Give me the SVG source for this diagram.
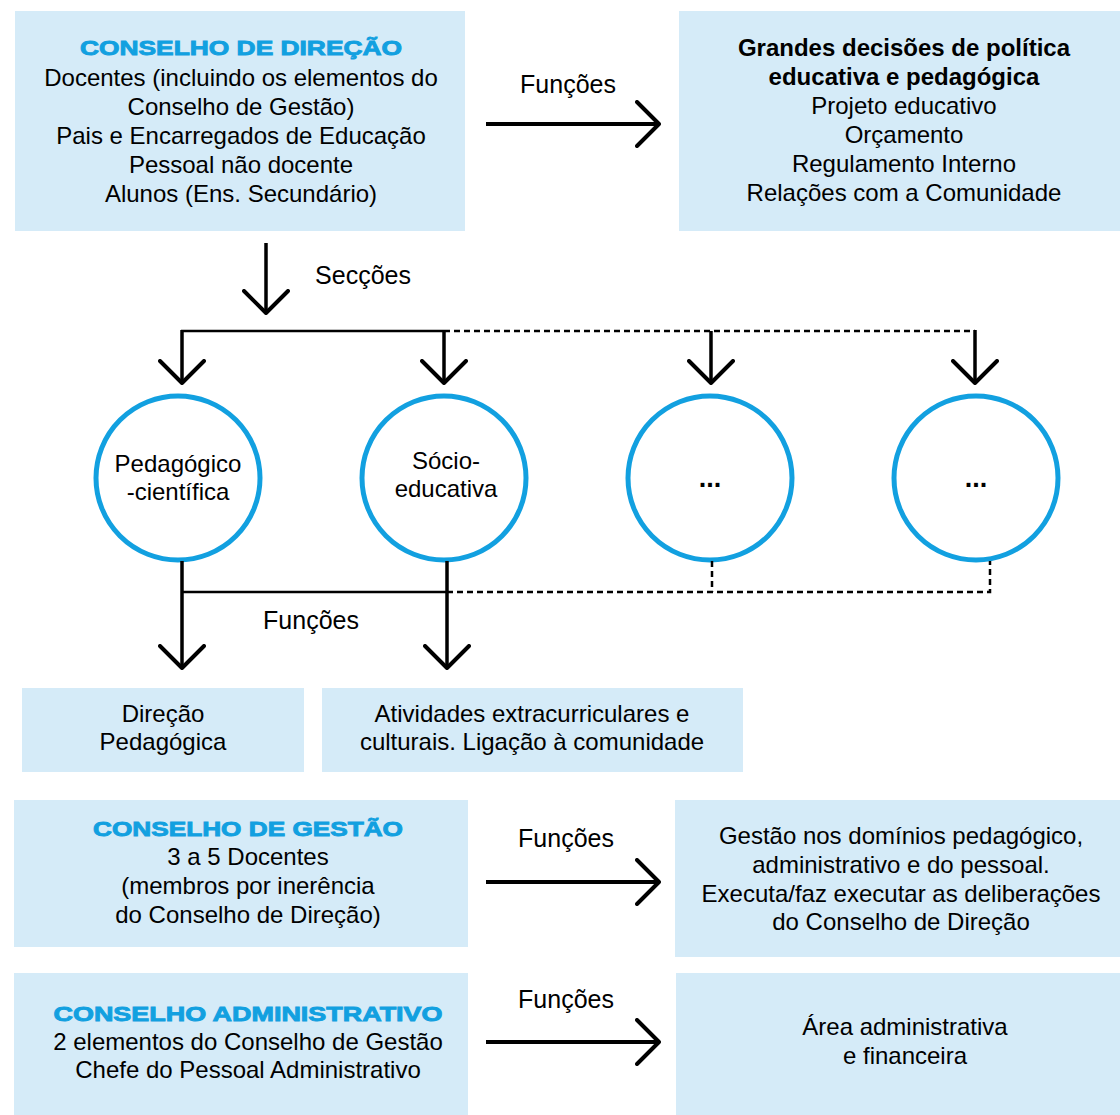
<svg xmlns="http://www.w3.org/2000/svg" width="1120" height="1115" viewBox="0 0 1120 1115">
<defs>
<style>
.box{fill:#D5EBF8;}
.t{font-family:"Liberation Sans",Arial,sans-serif;font-size:24px;fill:#000;text-anchor:middle;}
.b{font-weight:bold;}
.dots{font-family:"Liberation Sans",Arial,sans-serif;font-size:27px;font-weight:bold;fill:#000;text-anchor:middle;}
.title{font-family:"Liberation Sans",Arial,sans-serif;font-size:21px;font-weight:bold;fill:#12A0E0;stroke:#12A0E0;stroke-width:0.9;text-anchor:middle;}
.lbl{font-family:"Liberation Sans",Arial,sans-serif;font-size:25px;fill:#000;text-anchor:middle;}
.circ{fill:#fff;stroke:#12A0E0;stroke-width:5;}
.arr{stroke:#000;stroke-width:3.5;fill:none;marker-end:url(#chev);}
.arrh{stroke:#000;stroke-width:4;fill:none;marker-end:url(#chev);}
.ln{stroke:#000;stroke-width:2.5;fill:none;}
.dash{stroke:#000;stroke-width:2.5;fill:none;stroke-dasharray:6 4;}
</style>
<marker id="chev" viewBox="0 0 26 48" refX="24" refY="24" markerWidth="26" markerHeight="48" markerUnits="userSpaceOnUse" orient="auto">
<path d="M2,2 L24,24 L2,46" fill="none" stroke="#000" stroke-width="4" stroke-linecap="round" stroke-linejoin="round"/>
</marker>
</defs>
<rect width="1120" height="1115" fill="#fff"/>

<g id="conselho-direcao">
<rect class="box" x="15" y="11" width="450" height="220"/>
<text class="title" x="241" y="55" textLength="322" lengthAdjust="spacingAndGlyphs">CONSELHO DE DIREÇÃO</text>
<text class="t" x="241" y="86">Docentes (incluindo os elementos do</text>
<text class="t" x="241" y="115">Conselho de Gestão)</text>
<text class="t" x="241" y="144">Pais e Encarregados de Educação</text>
<text class="t" x="241" y="173">Pessoal não docente</text>
<text class="t" x="241" y="202">Alunos (Ens. Secundário)</text>
</g>

<g id="decisoes">
<rect class="box" x="679" y="11" width="441" height="220"/>
<text class="t b" x="904" y="56">Grandes decisões de política</text>
<text class="t b" x="904" y="85">educativa e pedagógica</text>
<text class="t" x="904" y="114">Projeto educativo</text>
<text class="t" x="904" y="143">Orçamento</text>
<text class="t" x="904" y="172">Regulamento Interno</text>
<text class="t" x="904" y="201">Relações com a Comunidade</text>
</g>

<g id="sec-pedagogico">
<circle class="circ" cx="178" cy="478" r="82"/>
<text class="t" x="178" y="472">Pedagógico</text>
<text class="t" x="178" y="500">-científica</text>
</g>
<g id="sec-socio">
<circle class="circ" cx="444" cy="478" r="82"/>
<text class="t" x="446" y="469">Sócio-</text>
<text class="t" x="446" y="497">educativa</text>
</g>
<g id="sec-3">
<circle class="circ" cx="710" cy="478" r="82"/>
<text class="dots" x="710" y="487">...</text>
</g>
<g id="sec-4">
<circle class="circ" cx="976" cy="478" r="82"/>
<text class="dots" x="976" y="487">...</text>
</g>

<g id="direcao-pedagogica">
<rect class="box" x="22" y="688" width="282" height="84"/>
<text class="t" x="163" y="722">Direção</text>
<text class="t" x="163" y="750">Pedagógica</text>
</g>
<g id="atividades">
<rect class="box" x="322" y="688" width="421" height="84"/>
<text class="t" x="532" y="722">Atividades extracurriculares e</text>
<text class="t" x="532" y="750">culturais. Ligação à comunidade</text>
</g>

<g id="conselho-gestao">
<rect class="box" x="14" y="800" width="454" height="147"/>
<text class="title" x="248" y="836" textLength="310" lengthAdjust="spacingAndGlyphs">CONSELHO DE GESTÃO</text>
<text class="t" x="248" y="865">3 a 5 Docentes</text>
<text class="t" x="248" y="894">(membros por inerência</text>
<text class="t" x="248" y="923">do Conselho de Direção)</text>
</g>
<g id="gestao-funcoes">
<rect class="box" x="675" y="800" width="445" height="157"/>
<text class="t" x="901" y="844">Gestão nos domínios pedagógico,</text>
<text class="t" x="901" y="873">administrativo e do pessoal.</text>
<text class="t" x="901" y="902">Executa/faz executar as deliberações</text>
<text class="t" x="901" y="930">do Conselho de Direção</text>
</g>

<g id="conselho-administrativo">
<rect class="box" x="14" y="973" width="454" height="142"/>
<text class="title" x="248" y="1021" textLength="389" lengthAdjust="spacingAndGlyphs">CONSELHO ADMINISTRATIVO</text>
<text class="t" x="248" y="1050">2 elementos do Conselho de Gestão</text>
<text class="t" x="248" y="1078">Chefe do Pessoal Administrativo</text>
</g>
<g id="area-administrativa">
<rect class="box" x="676" y="973" width="444" height="142"/>
<text class="t" x="905" y="1035">Área administrativa</text>
<text class="t" x="905" y="1064">e financeira</text>
</g>

<g id="connectors">
<line class="arrh" x1="486" y1="124" x2="659" y2="124"/>
<text class="lbl" x="568" y="93">Funções</text>

<line class="arr" x1="266" y1="243" x2="266" y2="313"/>
<text class="lbl" x="363" y="284">Secções</text>

<line class="ln" x1="181" y1="331" x2="444" y2="331"/>
<line class="dash" x1="444" y1="331" x2="975" y2="331"/>
<line class="arr" x1="182" y1="330" x2="182" y2="383"/>
<line class="arr" x1="444" y1="330" x2="444" y2="383"/>
<line class="arr" x1="711" y1="331" x2="711" y2="383"/>
<line class="arr" x1="975" y1="330" x2="975" y2="383"/>

<line class="arr" x1="182" y1="561" x2="182" y2="668"/>
<line class="arr" x1="447" y1="561" x2="447" y2="668"/>
<line class="ln" x1="182" y1="592" x2="447" y2="592"/>
<path class="dash" d="M447,592 H990 V561 M712,561 V592"/>
<text class="lbl" x="311" y="629">Funções</text>

<line class="arrh" x1="486" y1="882" x2="659" y2="882"/>
<text class="lbl" x="566" y="847">Funções</text>
<line class="arrh" x1="486" y1="1042" x2="659" y2="1042"/>
<text class="lbl" x="566" y="1008">Funções</text>
</g>
</svg>
